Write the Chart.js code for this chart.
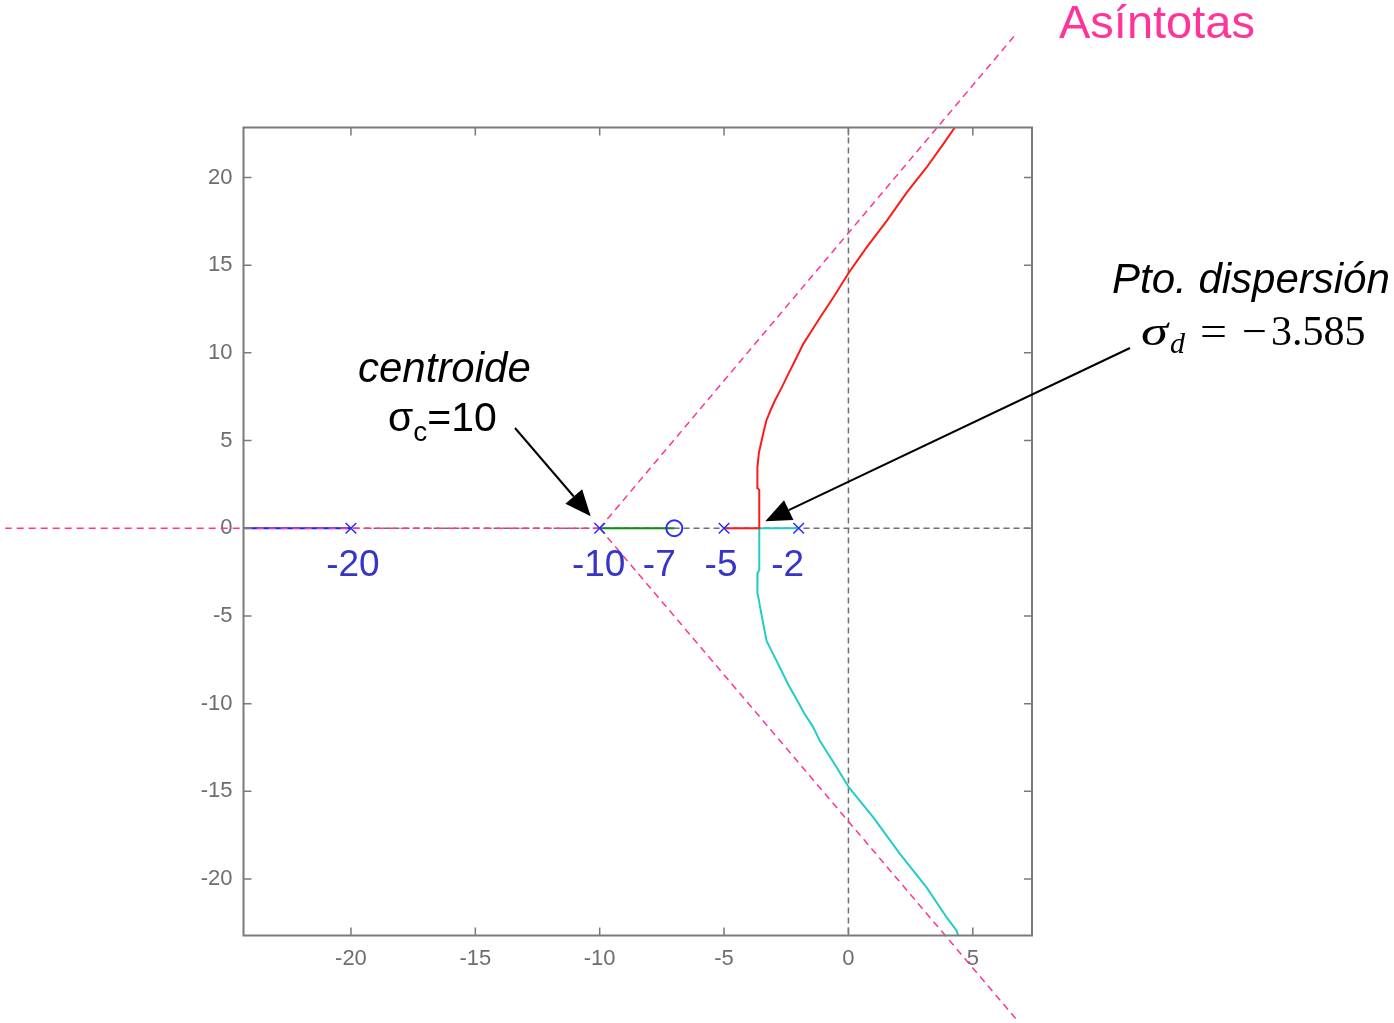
<!DOCTYPE html>
<html>
<head>
<meta charset="utf-8">
<script src="https://cdn.jsdelivr.net/npm/chart.js@4.4.0/dist/chart.umd.min.js"></script>
<style>
  body { margin: 0; background: #fff; }
  canvas { display: block; }
</style>
</head>
<body>
<canvas id="locus" width="1394" height="1023"></canvas>
<script>
// axis limits and ticks
const xRange = [-24.32, 7.38];
const yRange = [-23.22, 22.85];
const xTicks = [-20, -15, -10, -5, 0, 5];
const yTicks = [-20, -15, -10, -5, 0, 5, 10, 15, 20];

// open-loop poles / zeros, centroid and breakaway point
const poles = [-20, -10, -5, -2];
const zeros = [-7];
const centroid = -10;
const breakaway = -3.585;
const poleLabels = ['-20', '-10', '-7', '-5', '-2'];
const poleLabelAt = [-20, -10, -7, -5, -2];

// branches of the locus
const blueX = [-20, -24.32];
const blueY = [0, 0];
const greenX = [-10, -7];
const greenY = [0, 0];
const redX = [-5, breakaway, breakaway, -3.65, -3.66, -3.6, -3.52, -3.4, -3.3, -3.14, -2.96, -2.68, -2.42, -2.15, -1.82, -1.48, -1.1, -0.61, 0.02, 0.73, 1.54, 2.34, 3.14, 3.81, 4.3];
const redY = [0, 0, 2.18, 2.3, 3.47, 4.3, 4.8, 5.56, 6.13, 6.7, 7.27, 8.03, 8.79, 9.55, 10.5, 11.26, 12.1, 13.16, 14.58, 16.01, 17.53, 19.14, 20.57, 21.9, 22.9];
const cyanX = [-2, breakaway, breakaway, -3.65, -3.66, -3.6, -3.56, -3.42, -3.29, -3.02, -2.75, -2.42, -2.08, -1.75, -1.44, -1.15, -0.47, 0.02, 1.0, 2.07, 3.14, 3.95, 4.35, 4.45];
const cyanY = [0, 0, -2.41, -2.53, -3.68, -4.1, -4.44, -5.48, -6.43, -7.19, -7.95, -8.91, -9.76, -10.62, -11.28, -12.12, -13.64, -14.78, -16.49, -18.57, -20.48, -22.19, -22.95, -23.4];

// asymptote end points (all start at the centroid)
const asymEndX = [6.77, 6.77, -33.9];
const asymEndY = [28.24, -28.03, 0];

const pts = (xs, ys) => xs.map((x, i) => ({ x: x, y: ys[i] }));

const PINK = '#ff3399';
const SANS = '"Liberation Sans", Arial, sans-serif';
const SERIF = '"Liberation Serif", "Times New Roman", serif';

const branch = (xs, ys, color) => ({
  data: pts(xs, ys), showLine: true, borderColor: color, borderWidth: 2,
  pointRadius: 0, clip: 0, order: 3
});

const datasets = [
  {
    data: poles.map(p => ({ x: p, y: 0 })), showLine: false,
    pointStyle: 'crossRot', pointRadius: 7.5, borderColor: '#2b2bff',
    borderWidth: 1.5, backgroundColor: 'rgba(0,0,0,0)', order: 0
  },
  {
    data: zeros.map(z => ({ x: z, y: 0 })), showLine: false,
    pointStyle: 'circle', pointRadius: 8, borderColor: '#2b2bff',
    borderWidth: 2, backgroundColor: 'rgba(0,0,0,0)', order: 0
  }
];
asymEndX.forEach((ex, i) => {
  datasets.push({
    data: [{ x: centroid, y: 0 }, { x: ex, y: asymEndY[i] }], showLine: true,
    borderColor: PINK, borderWidth: 1.5, borderDash: [7, 5], pointRadius: 0,
    clip: false, order: 1
  });
});
datasets.push(branch(blueX, blueY, '#2020ff'));
datasets.push(branch(greenX, greenY, '#108a10'));
datasets.push(branch(redX, redY, '#ff1a1a'));
datasets.push(branch(cyanX, cyanY, '#22cccc'));

// dashed zero lines under the data
const zeroLines = {
  id: 'zeroLines',
  beforeDatasetsDraw(chart) {
    const { ctx, chartArea: a, scales: { x, y } } = chart;
    ctx.save();
    ctx.strokeStyle = '#707070';
    ctx.lineWidth = 1.5;
    ctx.setLineDash([6, 4]);
    ctx.beginPath();
    ctx.moveTo(x.getPixelForValue(0), a.top);
    ctx.lineTo(x.getPixelForValue(0), a.bottom);
    ctx.moveTo(a.left, y.getPixelForValue(0));
    ctx.lineTo(a.right, y.getPixelForValue(0));
    ctx.stroke();
    ctx.restore();
  }
};

// box with inward tick marks on all four sides
const frame = {
  id: 'frame',
  afterDatasetsDraw(chart) {
    const { ctx, chartArea: a, scales: { x, y } } = chart;
    const len = 8;
    ctx.save();
    ctx.strokeStyle = '#7a7a7a';
    ctx.lineWidth = 1.5;
    ctx.beginPath();
    xTicks.forEach(v => {
      const px = x.getPixelForValue(v);
      ctx.moveTo(px, a.bottom); ctx.lineTo(px, a.bottom - len);
      ctx.moveTo(px, a.top); ctx.lineTo(px, a.top + len);
    });
    yTicks.forEach(v => {
      const py = y.getPixelForValue(v);
      ctx.moveTo(a.left, py); ctx.lineTo(a.left + len, py);
      ctx.moveTo(a.right, py); ctx.lineTo(a.right - len, py);
    });
    ctx.stroke();
    ctx.lineWidth = 2;
    ctx.strokeRect(a.left, a.top, a.right - a.left, a.bottom - a.top);
    ctx.restore();
  }
};

function arrow(ctx, x0, y0, x1, y1) {
  const ang = Math.atan2(y1 - y0, x1 - x0);
  const hl = 26, hw = 11;
  const bx = x1 - hl * Math.cos(ang), by = y1 - hl * Math.sin(ang);
  ctx.beginPath();
  ctx.moveTo(x0, y0);
  ctx.lineTo(bx, by);
  ctx.stroke();
  ctx.beginPath();
  ctx.moveTo(x1, y1);
  ctx.lineTo(bx + hw * Math.sin(ang), by - hw * Math.cos(ang));
  ctx.lineTo(bx - hw * Math.sin(ang), by + hw * Math.cos(ang));
  ctx.closePath();
  ctx.fill();
}

// text notes and arrows
const notes = {
  id: 'notes',
  afterDraw(chart) {
    const { ctx, scales: { x, y } } = chart;
    const y0 = y.getPixelForValue(0);
    ctx.save();
    ctx.textBaseline = 'alphabetic';

    // pole / zero values under the real axis
    const labelShift = [2, -1, -15, -3, -11];
    ctx.fillStyle = '#3535c8';
    ctx.font = '37px ' + SANS;
    ctx.textAlign = 'center';
    poleLabels.forEach((t, i) => {
      ctx.fillText(t, x.getPixelForValue(poleLabelAt[i]) + labelShift[i], y0 + 48);
    });

    ctx.textAlign = 'left';
    ctx.fillStyle = PINK;
    ctx.font = '47px ' + SANS;
    ctx.fillText('Asíntotas', 1059, 38);

    ctx.fillStyle = '#000';
    ctx.font = 'italic 42px ' + SANS;
    ctx.fillText('centroide', 358, 382);

    let cx = 388;
    ctx.font = '41px ' + SANS;
    ctx.fillText('σ', cx, 431);
    cx += ctx.measureText('σ').width;
    ctx.font = '28px ' + SANS;
    ctx.fillText('c', cx, 441);
    cx += ctx.measureText('c').width;
    ctx.font = '41px ' + SANS;
    ctx.fillText('=10', cx, 431);

    ctx.font = 'italic 42px ' + SANS;
    ctx.fillText('Pto. dispersión', 1112, 293);

    // sigma_d = -3.585, set piece by piece
    ctx.font = 'italic 42px ' + SERIF;
    ctx.save();
    ctx.translate(1141, 345);
    ctx.scale(1.3, 1);
    ctx.fillText('σ', 0, 0);
    ctx.restore();
    ctx.font = 'italic 30px ' + SERIF;
    ctx.fillText('d', 1170, 353);
    ctx.font = '42px ' + SERIF;
    ctx.save();
    ctx.translate(1200, 345);
    ctx.scale(1.14, 1);
    ctx.fillText('=', 0, 0);
    ctx.restore();
    ctx.save();
    ctx.translate(1242, 345);
    ctx.scale(1.05, 1);
    ctx.fillText('\u2212', 0, 0);
    ctx.restore();
    ctx.fillText('3.585', 1271, 345);

    ctx.strokeStyle = '#000';
    ctx.lineWidth = 2;
    arrow(ctx, 515, 428, x.getPixelForValue(centroid) - 9, y0 - 12);
    arrow(ctx, 1130, 348, x.getPixelForValue(breakaway) + 6, y0 - 7);
    ctx.restore();
  }
};

const tickFont = { family: SANS, size: 22 };

new Chart(document.getElementById('locus'), {
  type: 'scatter',
  data: { datasets: datasets },
  options: {
    responsive: false,
    animation: false,
    devicePixelRatio: 1,
    layout: { padding: { top: 127.5, right: 362, left: 0, bottom: 0 } },
    plugins: { legend: { display: false }, tooltip: { enabled: false } },
    scales: {
      x: {
        type: 'linear', min: xRange[0], max: xRange[1],
        afterBuildTicks: s => { s.ticks = xTicks.map(v => ({ value: v })); },
        afterFit: s => { s.height = 87.5; },
        grid: { display: false, drawTicks: false },
        border: { display: false },
        ticks: { color: '#6e6e6e', font: tickFont, padding: 10, maxRotation: 0, autoSkip: false }
      },
      y: {
        type: 'linear', min: yRange[0], max: yRange[1],
        afterBuildTicks: s => { s.ticks = yTicks.map(v => ({ value: v })); },
        afterFit: s => { s.width = 243.5; },
        grid: { display: false, drawTicks: false },
        border: { display: false },
        ticks: { color: '#6e6e6e', font: tickFont, padding: 11, autoSkip: false }
      }
    }
  },
  plugins: [zeroLines, frame, notes]
});
</script>
</body>
</html>
